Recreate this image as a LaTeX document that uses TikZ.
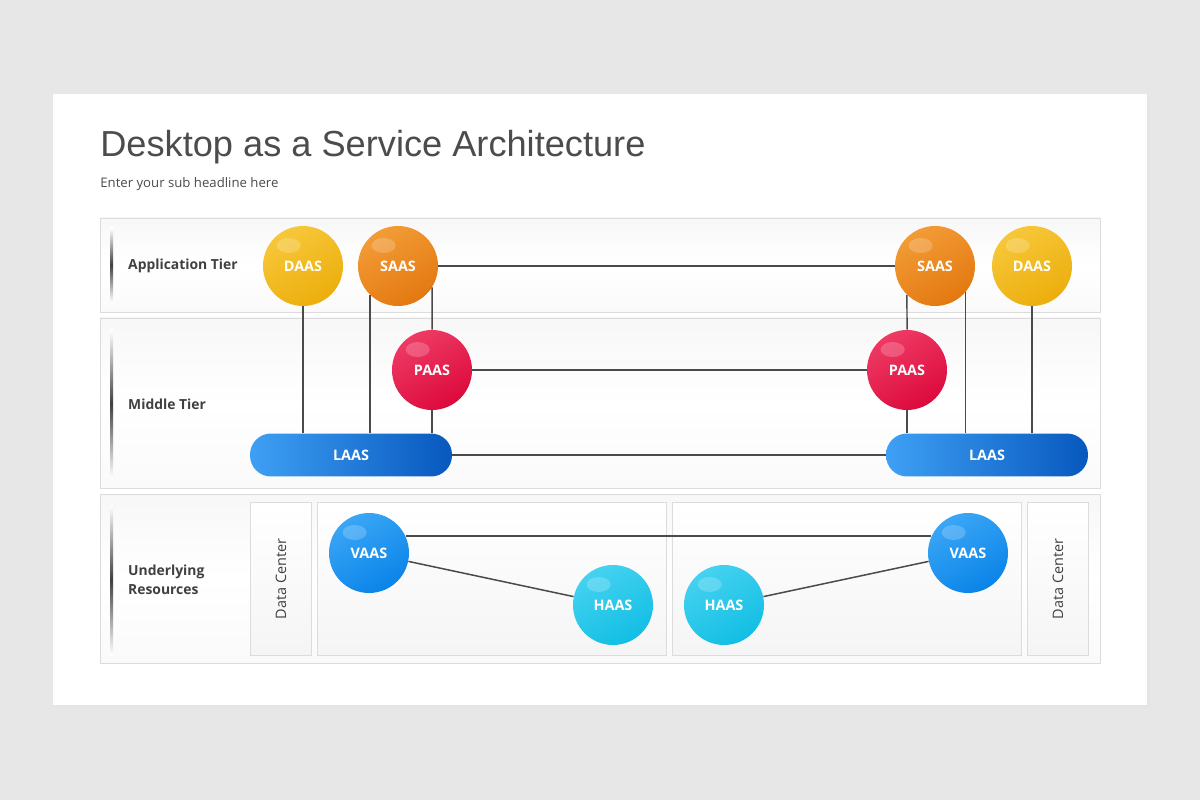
\documentclass[tikz,border=0pt]{standalone}
\usepackage{fontspec}
\setmainfont{Open Sans}
\newfontfamily\titlefont{Liberation Sans}
\usetikzlibrary{calc}

\definecolor{pagebg}{HTML}{E8E7E8}
\definecolor{bandline}{HTML}{DCDCDC}
\definecolor{textgray}{HTML}{404040}
\definecolor{daasA}{HTML}{F7C73A}
\definecolor{daasB}{HTML}{ECAE0C}
\definecolor{saasA}{HTML}{F29C36}
\definecolor{saasB}{HTML}{E47810}
\definecolor{paasA}{HTML}{EE3A64}
\definecolor{paasB}{HTML}{DC0A3C}
\definecolor{laasA}{HTML}{3EA0F4}
\definecolor{laasB}{HTML}{0858BE}
\definecolor{vaasA}{HTML}{3AA6F6}
\definecolor{vaasB}{HTML}{0A84E8}
\definecolor{haasA}{HTML}{45D2F0}
\definecolor{haasB}{HTML}{12BEE4}
\definecolor{wire}{HTML}{4A4A4A}

\begin{document}
\begin{tikzpicture}[
x=0.02cm, y=-0.02cm,
band/.style={draw=bandline, top color=black!3, bottom color=black!2, middle color=white},
panel/.style={draw=bandline, top color=white, bottom color=black!4},
tierbar/.style={top color=white, bottom color=white, middle color=black!75},
tier/.style={anchor=west, align=left, text=textgray, font=\bfseries\fontsize{7.9}{11}\selectfont},
dc/.style={rotate=90, text=textgray, font=\fontsize{8.2}{10}\selectfont},
ball/.style={circle, minimum size=1.6cm, inner sep=0pt, text=white,
  font=\bfseries\fontsize{8.2}{10}\selectfont,
  path picture={\fill[white,opacity=.2] ($(path picture bounding box.center)+(125:.5cm)$)
    ellipse [x radius=.24cm, y radius=.15cm];}},
daas/.style={ball, top color=daasA, bottom color=daasB, shading angle=30},
saas/.style={ball, top color=saasA, bottom color=saasB, shading angle=30},
paas/.style={ball, top color=paasA, bottom color=paasB, shading angle=30},
vaas/.style={ball, top color=vaasA, bottom color=vaasB, shading angle=30},
haas/.style={ball, top color=haasA, bottom color=haasB, shading angle=30},
laas/.style={rectangle, rounded corners=0.42cm, minimum width=4.04cm, minimum height=0.86cm,
  left color=laasA, right color=laasB, text=white, font=\bfseries\fontsize{8.2}{10}\selectfont},
wire/.style={draw=wire, line width=0.85pt}
]

% page and card
\fill[pagebg] (0,0) rectangle (1200,800);
\fill[black!10] (55,97) rectangle (1150,709);
\fill[white] (53,94) rectangle (1147,705);

\node[anchor=base west, inner sep=0pt, text=black!70, font=\titlefont\fontsize{20.6}{24}\selectfont] (title) at (100,157) {Desktop as a Service Architecture};
\node[anchor=base west, inner sep=0pt, text=black!70, font=\fontsize{7.5}{9}\selectfont] (sub) at (100,188) {Enter your sub headline here};

% tiers
\path[band] (100,218) rectangle (1100,312);
\path[band] (100,318) rectangle (1100,488);
\path[band] (100,494) rectangle (1100,663);
\shade[tierbar] (110,228) rectangle (113,302);
\shade[tierbar] (110,330) rectangle (113,478);
\shade[tierbar] (110,505) rectangle (113,655);
\node[tier] (apptier) at (122,266) {Application Tier};
\node[tier] (midtier) at (122,404) {Middle Tier};
\node[tier] (restier) at (122,580) {Underlying\\Resources};

% data center panels
\path[panel] (250,502) rectangle (311,655);
\path[panel] (317,502) rectangle (666,655);
\path[panel] (672,502) rectangle (1021,655);
\path[panel] (1027,502) rectangle (1088,655);
\node[dc] (dcL) at (281,579) {Data Center};
\node[dc] (dcR) at (1058,579) {Data Center};

% services
\node[laas] (laasL) at (351,455) {LAAS};
\node[laas] (laasR) at (987,455) {LAAS};
\node[daas] (daasL) at (303,266) {DAAS};
\node[saas] (saasL) at (398,266) {SAAS};
\node[saas] (saasR) at (935,266) {SAAS};
\node[daas] (daasR) at (1032,266) {DAAS};
\node[paas] (paasL) at (432,370) {PAAS};
\node[paas] (paasR) at (907,370) {PAAS};
\node[vaas] (vaasL) at (369,553) {VAAS};
\node[haas] (haasL) at (613,605) {HAAS};
\node[haas] (haasR) at (724,605) {HAAS};
\node[vaas] (vaasR) at (968,553) {VAAS};

% links
\draw[wire] (saasL) -- (saasR);
\draw[wire] (paasL) -- (paasR);
\draw[wire] (laasL) -- (laasR);
\draw[wire] (daasL.south) -- (daasL.south |- laasL.north);
\draw[wire] (saasL.226) -- (saasL.226 |- laasL.north);
\draw[wire] (saasL.328) -- (paasL.north);
\draw[wire] (paasL.south) -- (paasL.south |- laasL.north);
\draw[wire] (saasR.226) -- (paasR.north);
\draw[wire] (paasR.south) -- (paasR.south |- laasR.north);
\draw[wire] (saasR.319) -- (saasR.319 |- laasR.north);
\draw[wire] (daasR.south) -- (daasR.south |- laasR.north);
\draw[wire] (vaasL.25) -- (vaasR.155);
\draw[wire] (vaasL) -- (haasL);
\draw[wire] (haasR) -- (vaasR);
\end{tikzpicture}
\end{document}
